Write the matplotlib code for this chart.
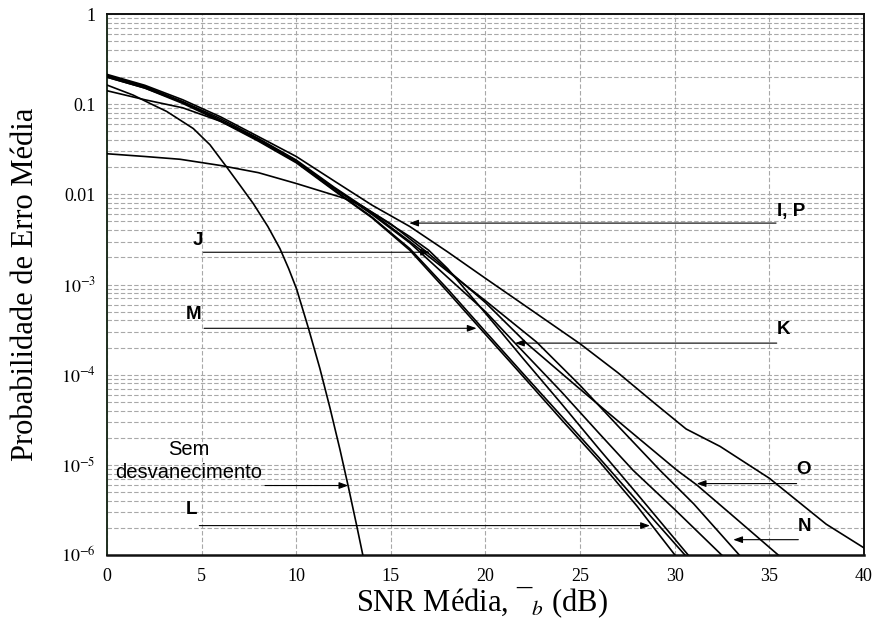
import matplotlib.pyplot as plt
from matplotlib.ticker import FixedLocator, LogLocator, NullFormatter

plt.rcParams["font.family"] = "Liberation Serif"
plt.rcParams["mathtext.fontset"] = "stix"

# average SNR per bit (dB) and average bit error probability, one pair per curve
snr_ip = [0, 2, 4, 6, 8, 10, 12, 14, 16, 18, 20, 22, 25, 27, 29, 30.6, 32.4, 35, 36.6, 38, 40]
pe_ip = [0.214, 0.162, 0.112, 0.0724, 0.0437, 0.0263, 0.0141, 7.6e-3, 4.4e-3, 2.3e-3, 1.17e-3,
         6.0e-4, 2.2e-4, 1.05e-4, 4.7e-5, 2.5e-5, 1.6e-5, 7.1e-6, 3.8e-6, 2.2e-6, 1.2e-6]

snr_j = [0, 2, 4, 6, 8, 10, 12, 14, 16, 17, 18, 20, 22, 24, 26, 28, 30.71]
pe_j = [0.209, 0.158, 0.107, 0.0692, 0.0417, 0.024, 0.012, 6.3e-3, 3.4e-3, 2.4e-3, 1.5e-3,
        4.8e-4, 1.5e-4, 4.8e-5, 1.5e-5, 4.8e-6, 1.0e-6]

snr_k = [0, 2, 4, 6, 8, 10, 12, 14, 16, 18, 20, 21.56, 24, 26, 27.8, 30, 32.48]
pe_k = [0.1995, 0.151, 0.105, 0.0661, 0.0407, 0.0234, 0.0117, 6.0e-3, 2.9e-3, 1.2e-3, 5.0e-4,
        2.24e-4, 6.5e-5, 2.24e-5, 8.7e-6, 3.2e-6, 1.0e-6]

snr_l = [0, 2, 4, 6, 8, 10, 12, 14, 16, 18, 20, 22, 24, 26, 28, 30.01]
pe_l = [0.1995, 0.151, 0.102, 0.0646, 0.0389, 0.0224, 0.011, 5.5e-3, 2.4e-3, 8.3e-4, 2.8e-4,
        9.5e-5, 3.2e-5, 1.1e-5, 3.5e-6, 1.0e-6]

snr_m = [0, 2, 4, 6, 8, 10, 12, 14, 16, 18, 20, 22, 24, 26, 28, 30.54]
pe_m = [0.204, 0.155, 0.105, 0.066, 0.0398, 0.0229, 0.0112, 5.6e-3, 2.5e-3, 8.9e-4, 3.0e-4,
        1.02e-4, 3.5e-5, 1.2e-5, 4.0e-6, 1.0e-6]

snr_n = [0, 2, 4, 6, 8, 10, 12, 14, 16, 18, 20, 22.7, 25, 27, 29.22, 31, 33.41]
pe_n = [0.141, 0.112, 0.0912, 0.0646, 0.0407, 0.0234, 0.0117, 6.2e-3, 3.0e-3, 1.4e-3, 6.6e-4,
        2.3e-4, 7.6e-5, 2.7e-5, 8.7e-6, 3.7e-6, 1.0e-6]

snr_o = [0, 2, 3.86, 6, 8, 10, 12.5, 13.4, 15, 17, 20, 22.2, 25, 27.5, 30.12, 31.16, 33, 35.47]
pe_o = [0.0282, 0.0263, 0.0245, 0.0209, 0.0174, 0.0132, 9.1e-3, 7.6e-3, 4.7e-3, 2.2e-3, 6.3e-4,
        2.2e-4, 6.9e-5, 2.5e-5, 8.7e-6, 6.0e-6, 2.8e-6, 1.0e-6]

# no-fading reference curve
snr_awgn = [0, 1.39, 2.27, 3.15, 4.56, 5.44, 6.33, 7.03, 7.73, 8.5, 9.14, 9.6, 10.02, 10.64,
            11.25, 11.78, 12.31, 12.75, 13.19, 13.54]
pe_awgn = [0.163, 0.126, 0.102, 0.0832, 0.0537, 0.0355, 0.020, 0.0126, 7.9e-3, 4.4e-3, 2.5e-3,
           1.5e-3, 8.9e-4, 3.3e-4, 1.17e-4, 4.3e-5, 1.48e-5, 5.75e-6, 2.14e-6, 9.5e-7]

x_ticks = [0, 5, 10, 15, 20, 25, 30, 35, 40]
y_ticks = [1, 0.1, 0.01, 1e-3, 1e-4, 1e-5, 1e-6]
y_tick_labels = ["1", "0.1", "0.01", r"$10^{-3}\ \ $", r"$10^{-4}\ \ $", r"$10^{-5}\ \ $",
                 r"$10^{-6}\ \ $"]

curves = [
    (snr_ip, pe_ip), (snr_j, pe_j), (snr_k, pe_k), (snr_l, pe_l),
    (snr_m, pe_m), (snr_n, pe_n), (snr_o, pe_o), (snr_awgn, pe_awgn),
]

fig = plt.figure(figsize=(8.82, 6.23), dpi=100)
ax = fig.add_axes([0.1213, 0.1091, 0.8583, 0.8684])

for snr, pe in curves:
    ax.plot(snr, pe, color="black", lw=1.2, zorder=3)

ax.set_yscale("log")
ax.set_xlim(0, 40)
ax.set_ylim(1e-6, 1)

ax.xaxis.set_major_locator(FixedLocator(x_ticks))
ax.set_xticklabels([str(t) for t in x_ticks])
ax.yaxis.set_major_locator(FixedLocator(y_ticks))
ax.set_yticklabels(y_tick_labels)
ax.yaxis.set_minor_locator(LogLocator(base=10, subs=range(2, 10)))
ax.yaxis.set_minor_formatter(NullFormatter())

ax.tick_params(axis="both", which="both", length=0, labelsize=13)
ax.tick_params(axis="x", pad=9)
ax.tick_params(axis="y", pad=8)

grid_style = dict(color="#a8a8a8", lw=0.8, ls=(0, (4, 2)))
ax.grid(True, which="major", axis="x", **grid_style)
ax.grid(True, which="both", axis="y", **grid_style)
ax.set_axisbelow(True)

for side in ["top", "right", "bottom", "left"]:
    ax.spines[side].set_linewidth(1.4)
    ax.spines[side].set_color("#111111")
ax.spines["bottom"].set_linewidth(1.8)
ax.spines["left"].set_color("#1e2e1e")

ax.set_xlabel("SNR Média, \u00af${}_b$ (dB)", fontsize=22)
ax.set_ylabel("Probabilidade de Erro Média", fontsize=22)
ax.xaxis.set_label_coords(0.496, -0.055)
ax.yaxis.set_label_coords(-0.088, 0.5)

# curve labels with arrows pointing to each curve
arrow_style = dict(arrowstyle="-|>,head_length=0.55,head_width=0.2", color="black",
                   lw=0.8, shrinkA=0, shrinkB=0, mutation_scale=10)
label_font = dict(family="Liberation Sans", fontweight="bold", fontsize=13.5)

arrows = [
    ("I, P", (35.4, 6.4e-3), "left", (35.35, 4.8e-3), (15.97, 4.8e-3)),
    ("J", (4.78, 3.1e-3), "center", (5.09, 2.28e-3), (17.07, 2.28e-3)),
    ("M", (4.6, 4.6e-4), "center", (5.13, 3.27e-4), (19.53, 3.27e-4)),
    ("K", (35.4, 3.2e-4), "left", (35.39, 2.24e-4), (21.56, 2.24e-4)),
    ("O", (36.44, 8.8e-6), "left", (36.44, 6.2e-6), (31.16, 6.2e-6)),
    ("N", (36.5, 2.07e-6), "left", (36.53, 1.48e-6), (33.09, 1.48e-6)),
    ("L", (4.49, 3.16e-6), "center", (4.88, 2.12e-6), (28.69, 2.12e-6)),
]
for text, text_pos, align, start, tip in arrows:
    ax.text(*text_pos, text, ha=align, va="center", zorder=5, **label_font)
    ax.annotate("", xy=tip, xytext=start, arrowprops=arrow_style, zorder=4)

ax.text(4.33, 1.1e-5, "Sem\ndesvanecimento", ha="center", va="center",
        family="Liberation Sans", fontsize=14.5, linespacing=1.3, zorder=5)
ax.annotate("", xy=(12.75, 5.9e-6), xytext=(8.35, 5.9e-6), arrowprops=arrow_style, zorder=4)

fig.savefig("out.png", dpi=100)
